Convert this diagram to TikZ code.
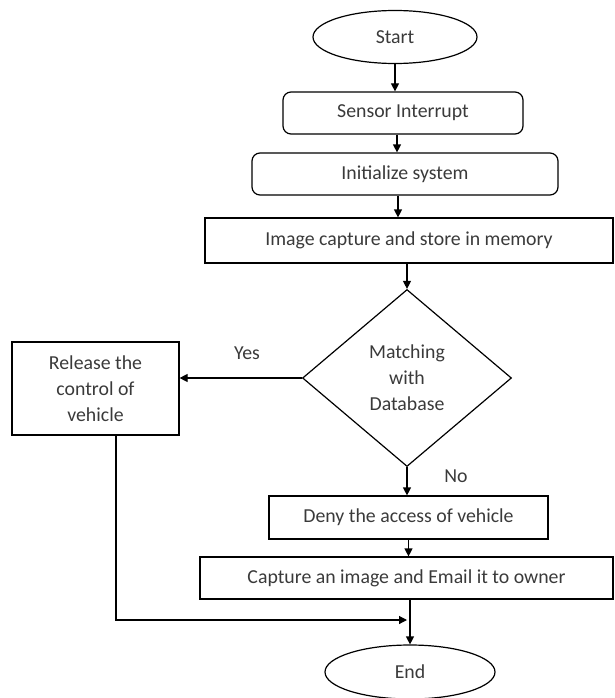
\documentclass[tikz,border=0pt]{standalone}
\usepackage{fontspec}
\setmainfont{Carlito}
\usetikzlibrary{shapes.geometric,arrows.meta}
\definecolor{txt}{RGB}{58,58,58}
\tikzset{
  every node/.style={font=\fontsize{19.8}{26}\selectfont, text=txt},
  ln/.style={line width=1.2pt, draw=black},
  arr/.style={ln, -{Triangle[length=8pt,width=8pt]}},
  oval/.style={ln, ellipse, inner sep=0pt},
  rbox/.style={ln, rectangle, rounded corners=8pt, inner sep=0pt},
  sbox/.style={ln, rectangle, inner sep=0pt},
  decide/.style={ln, diamond, inner sep=0pt, align=center},
}
\begin{document}
\begin{tikzpicture}[x=1pt,y=-1pt]
\useasboundingbox (0,0) rectangle (614,698);
\node[oval, minimum width=164pt, minimum height=53pt] (start) at (395,37) {Start};
\node[rbox, minimum width=240pt, minimum height=42pt] (sensor) at (403,113) {Sensor Interrupt};
\node[rbox, minimum width=306pt, minimum height=42pt] (init) at (405,174) {Initialize system};
\node[sbox, minimum width=408pt, minimum height=45pt] (img) at (409,240.5) {Image capture and store in memory};
\node[decide, minimum width=209pt, minimum height=177pt] (dia) at (407,378) {Matching\\with\\Database};
\node[sbox, minimum width=167pt, minimum height=93pt, align=center] (rel) at (95.5,388.5) {Release the\\control of\\vehicle};
\node[sbox, minimum width=279pt, minimum height=43pt] (deny) at (408.5,517.5) {Deny the access of vehicle};
\node[sbox, minimum width=413pt, minimum height=42pt] (cap) at (406.5,578) {Capture an image and Email it to owner};
\node[oval, minimum width=170pt, minimum height=54pt] (end) at (410,672) {End};
\node (yes) at (247,353) {Yes};
\node (no) at (456,476) {No};
\coordinate (join) at (407,620);

\draw[arr] (start) -- (start |- sensor.north);
\draw[arr] ([xshift=-6pt]sensor.south) -- ([xshift=-6pt]sensor.south |- init.north);
\draw[arr] ([xshift=-7pt]init.south) -- ([xshift=-7pt]init.south |- img.north);
\draw[arr] (img.south -| dia.north) -- (dia.north);
\draw[arr] (dia.west) -- (dia.west -| rel.east);
\draw[arr] (dia.south) -- (dia.south |- deny.north);
\draw[arr] (deny.south) -- (deny.south |- cap.north);
\draw[arr] (end.north |- cap.south) -- (end.north);
\draw[arr] ([xshift=20.5pt]rel.south) |- (join);
\end{tikzpicture}
\end{document}
